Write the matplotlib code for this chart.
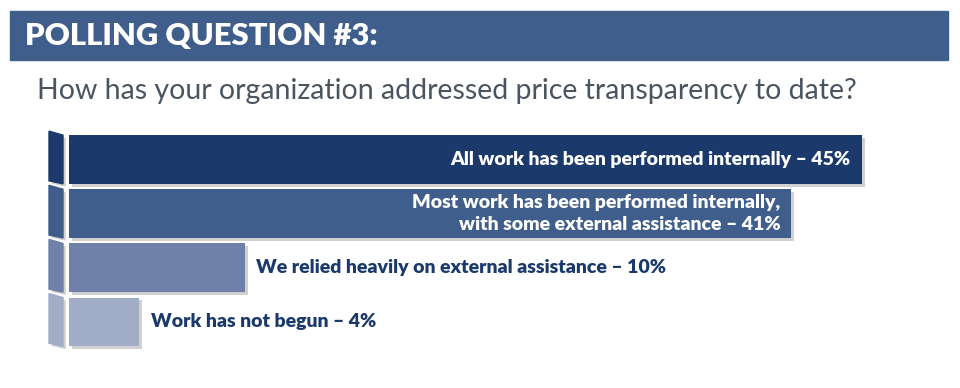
import matplotlib.pyplot as plt
from matplotlib.patches import Rectangle, Polygon
import matplotlib.patheffects as pe

# datos de la encuesta
labels = ["All work has been performed internally – 45%",
          "Most work has been performed internally,\nwith some external assistance – 41%",
          "We relied heavily on external assistance – 10%",
          "Work has not begun – 4%"]
values = [45, 41, 10, 4]
colors = ["#1B3A6B", "#3F5E8C", "#7081A9", "#A1ACC6"]
inside = [True, True, False, False]

title = "POLLING QUESTION #3:"
question = "How has your organization addressed price transparency to date?"

plt.rcParams['font.family'] = ['Lato', 'DejaVu Sans']

fig = plt.figure(figsize=(9.6, 3.88), dpi=100)

# banda del titulo
fig.patches.append(Rectangle((10/960, 1-60/388), 938/960, 49/388,
                             transform=fig.transFigure, color="#3F5E8C", zorder=0))
fig.text(25/960, 1-36/388, title, color="white", fontsize=22.3, fontweight="heavy",
         va="center", ha="left")
fig.text(37/960, 1-91/388, question, color="#4A5561", fontsize=20.5,
         va="center", ha="left")

ax = fig.add_axes([69/960, 1-349/388, 891/960, (349-132.4)/388])
ax.set_xlim(0, 891/17.62)
ax.set_ylim(3.5, -0.5)
ax.axis("off")

shadow = [pe.SimplePatchShadow(offset=(2, -2), shadow_rgbFace="#D0D0D0", alpha=1), pe.Normal()]
pos = list(range(len(values)))
bars = ax.barh(pos, values, height=0.9, color=colors)
for b in bars:
    b.set_path_effects(shadow)

# pestañas laterales (efecto 3d)
px = 1/17.62
py = 1/54.2
for i, c in enumerate(colors):
    top = i - 0.45
    bot = i + 0.45
    tab = Polygon([(-20*px, top - 4*py), (-6*px, top), (-6*px, bot), (-20*px, bot - 3*py)],
                  closed=True, color=c, clip_on=False)
    tab.set_path_effects(shadow)
    ax.add_patch(tab)

for i, (v, lab) in enumerate(zip(values, labels)):
    if inside[i]:
        ax.annotate(lab, (v, i), xytext=(-8, 0), textcoords="offset points",
                    ha="right", va="center", color="white", fontsize=14,
                    fontweight="heavy", multialignment="right", linespacing=1.35)
    else:
        ax.annotate(lab, (v, i), xytext=(8, 0), textcoords="offset points",
                    ha="left", va="center", color="#1B3A6B", fontsize=14,
                    fontweight="heavy")

fig.savefig("out.png", dpi=100)
